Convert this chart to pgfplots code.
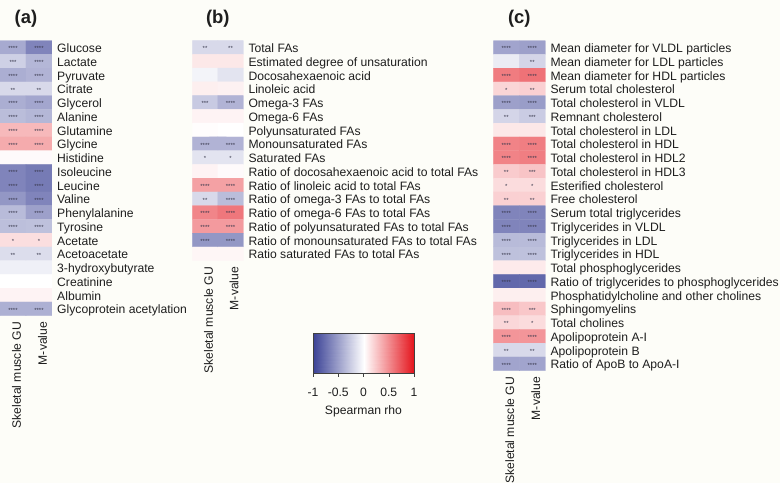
\documentclass[border=0pt]{standalone}
\usepackage{fontspec}
\setmainfont{Liberation Sans}
\usepackage{pgfplots}
\usepackage{pgfplotstable}
\pgfplotsset{compat=1.18}

\definecolor{bg}{RGB}{253,253,248}
\definecolor{txt}{RGB}{30,30,30}
\definecolor{starc}{RGB}{55,55,75}

% x = column (0 GU, 1 M-value), y = row, r = Spearman rho, s = significance
\pgfplotstableread{
x y r s
0 0 -0.45 ****
1 0 -0.65 ****
0 1 -0.25 ***
1 1 -0.38 ****
0 2 -0.43 ****
1 2 -0.40 ****
0 3 -0.20 **
1 3 -0.20 **
0 4 -0.43 ****
1 4 -0.47 ****
0 5 -0.35 ****
1 5 -0.38 ****
0 6 0.30 ****
1 6 0.30 ****
0 7 0.36 ****
1 7 0.36 ****
0 8 0.02 {}
1 8 0.02 {}
0 9 -0.65 ****
1 9 -0.70 ****
0 10 -0.65 ****
1 10 -0.70 ****
0 11 -0.55 ****
1 11 -0.65 ****
0 12 -0.36 ****
1 12 -0.50 ****
0 13 -0.34 ****
1 13 -0.33 ****
0 14 0.14 *
1 14 0.14 *
0 15 -0.18 **
1 15 -0.18 **
0 16 -0.08 {}
1 16 -0.08 {}
0 17 0.00 {}
1 17 0.00 {}
0 18 0.05 {}
1 18 0.05 {}
0 19 -0.42 ****
1 19 -0.42 ****
}\tabA

\pgfplotstableread{
x y r s
0 0 -0.20 **
1 0 -0.20 **
0 1 0.10 {}
1 1 0.10 {}
0 2 -0.06 {}
1 2 -0.14 {}
0 3 0.07 {}
1 3 0.06 {}
0 4 -0.28 ***
1 4 -0.40 ****
0 5 0.05 {}
1 5 0.05 {}
0 6 0.01 {}
1 6 0.00 {}
0 7 -0.40 ****
1 7 -0.40 ****
0 8 -0.14 *
1 8 -0.14 *
0 9 0.05 {}
1 9 0.02 {}
0 10 0.40 ****
1 10 0.40 ****
0 11 -0.20 **
1 11 -0.35 ****
0 12 0.52 ****
1 12 0.58 ****
0 13 0.43 ****
1 13 0.43 ****
0 14 -0.55 ****
1 14 -0.55 ****
0 15 0.04 {}
1 15 0.04 {}
}\tabB

\pgfplotstableread{
x y r s
0 0 -0.48 ****
1 0 -0.50 ****
0 1 -0.10 {}
1 1 -0.22 **
0 2 0.56 ****
1 2 0.60 ****
0 3 0.18 *
1 3 0.20 **
0 4 -0.50 ****
1 4 -0.52 ****
0 5 -0.22 **
1 5 -0.27 ***
0 6 0.10 {}
1 6 0.10 {}
0 7 0.53 ****
1 7 0.55 ****
0 8 0.53 ****
1 8 0.55 ****
0 9 0.22 **
1 9 0.25 ***
0 10 0.15 *
1 10 0.15 *
0 11 0.20 **
1 11 0.20 **
0 12 -0.65 ****
1 12 -0.65 ****
0 13 -0.65 ****
1 13 -0.65 ****
0 14 -0.36 ****
1 14 -0.36 ****
0 15 -0.33 ****
1 15 -0.33 ****
0 16 0.09 {}
1 16 0.09 {}
0 17 -0.80 ****
1 17 -0.80 ****
0 18 0.07 {}
1 18 0.07 {}
0 19 0.28 ****
1 19 0.24 ***
0 20 0.17 **
1 20 0.15 *
0 21 0.45 ****
1 21 0.45 ****
0 22 -0.20 **
1 22 -0.20 **
0 23 -0.48 ****
1 23 -0.48 ****
}\tabC

\pgfplotsset{
  rhomap/.style={
    colormap={rho}{rgb255=(59,66,150) rgb255=(255,255,255) rgb255=(228,20,28)},
    point meta min=-1, point meta max=1,
  },
  heat/.style={
    rhomap,
    scale only axis, width=52bp,
    xmin=-0.5, xmax=1.5, ymin=-0.5, y dir=reverse,
    enlargelimits=false,
    axis line style={draw=none},
    major tick length=0pt,
    tick style={draw=none},
    xtick={0,1}, xticklabels={Skeletal muscle GU, M-value},
    xticklabel style={xshift=3.5bp, rotate=90, anchor=east, inner xsep=6bp, inner ysep=0pt},
    yticklabel pos=right,
    ytick={0,...,23},
    yticklabel style={anchor=base west, inner sep=0pt, xshift=5bp, yshift=-5bp},
    tick label style={font=\fontsize{12.2}{14}\selectfont, text=txt},
    title style={font=\fontsize{18.5}{20}\selectfont\bfseries, text=txt, at={(0.5,1)}, anchor=base, yshift=11bp},
  },
  stars/.style={only marks, mark=none, nodes near coords, point meta=explicit symbolic,
    nodes near coords style={font=\fontsize{6}{6}\selectfont, text=starc, anchor=center, yshift=-1.3bp, inner sep=0pt}},
}

\begin{document}
\begin{tikzpicture}
\fill[bg] (0,0) rectangle (780bp,483bp);
\useasboundingbox (0,0) rectangle (780bp,483bp);

% (a)
\begin{axis}[heat, at={(0bp,442.3bp)}, anchor=north west,
  height=275bp, ymax=19.5, title={(a)},
  yticklabels={Glucose,Lactate,Pyruvate,Citrate,Glycerol,Alanine,Glutamine,Glycine,Histidine,Isoleucine,Leucine,Valine,Phenylalanine,Tyrosine,Acetate,Acetoacetate,3-hydroxybutyrate,Creatinine,Albumin,Glycoprotein acetylation}]
\addplot[matrix plot*, mesh/cols=2, point meta=explicit] table[meta=r] {\tabA};
\addplot[stars] table[meta=s] {\tabA};
\end{axis}

% (b)
\begin{axis}[heat, at={(192.3bp,442.3bp)}, anchor=north west,
  width=51bp, height=220bp, ymax=15.5, title={(b)},
  yticklabels={Total FAs,Estimated degree of unsaturation,Docosahexaenoic acid,Linoleic acid,Omega-3 FAs,Omega-6 FAs,Polyunsaturated FAs,Monounsaturated FAs,Saturated FAs,Ratio of docosahexaenoic acid to total FAs,Ratio of linoleic acid to total FAs,Ratio of omega-3 FAs to total FAs,Ratio of omega-6 FAs to total FAs,Ratio of polyunsaturated FAs to total FAs,Ratio of monounsaturated FAs to total FAs,Ratio saturated FAs to total FAs}]
\addplot[matrix plot*, mesh/cols=2, point meta=explicit] table[meta=r] {\tabB};
\addplot[stars] table[meta=s] {\tabB};
\end{axis}

% (c)
\begin{axis}[heat, at={(493.3bp,442.3bp)}, anchor=north west,
  height=330bp, ymax=23.5, title={(c)},
  yticklabels={Mean diameter for VLDL particles,Mean diameter for LDL particles,Mean diameter for HDL particles,Serum total cholesterol,Total cholesterol in VLDL,Remnant cholesterol,Total cholesterol in LDL,Total cholesterol in HDL,Total cholesterol in HDL2,Total cholesterol in HDL3,Esterified cholesterol,Free cholesterol,Serum total triglycerides,Triglycerides in VLDL,Triglycerides in LDL,Triglycerides in HDL,Total phosphoglycerides,Ratio of triglycerides to phosphoglycerides,Phosphatidylcholine and other cholines,Sphingomyelins,Total cholines,Apolipoprotein A-I,Apolipoprotein B,Ratio of ApoB to ApoA-I}]
\addplot[matrix plot*, mesh/cols=2, point meta=explicit] table[meta=r] {\tabC};
\addplot[stars] table[meta=s] {\tabC};
\end{axis}

% colour bar: gradient from -1 to 1
\begin{axis}[rhomap, at={(313bp,150bp)}, anchor=north west,
  scale only axis, width=101bp, height=40bp,
  xmin=-1, xmax=1, ymin=0, ymax=1, axis on top,
  ytick=\empty,
  xtick={-1,-0.5,0,0.5,1}, xticklabels={-1,-0.5,0,0.5,1},
  xtick align=outside, xtick pos=left, major tick length=4bp,
  axis line style={draw=black!75, line width=0.5bp},
  tick style={draw=black!75, line width=0.5bp},
  xticklabel style={font=\fontsize{12.2}{14}\selectfont, text=txt, anchor=base, inner sep=0pt, yshift=-19.7bp},
  xlabel={Spearman rho},
  xlabel style={font=\fontsize{12.2}{14}\selectfont, text=txt, at={(0.5,0)}, anchor=base, yshift=-41bp}]
\addplot[patch, shader=interp, point meta=x] coordinates {
(-1,0) (0,0) (0,1)
(-1,0) (0,1) (-1,1)
(0,0) (1,0) (1,1)
(0,0) (1,1) (0,1)};
\end{axis}
\end{tikzpicture}
\end{document}
